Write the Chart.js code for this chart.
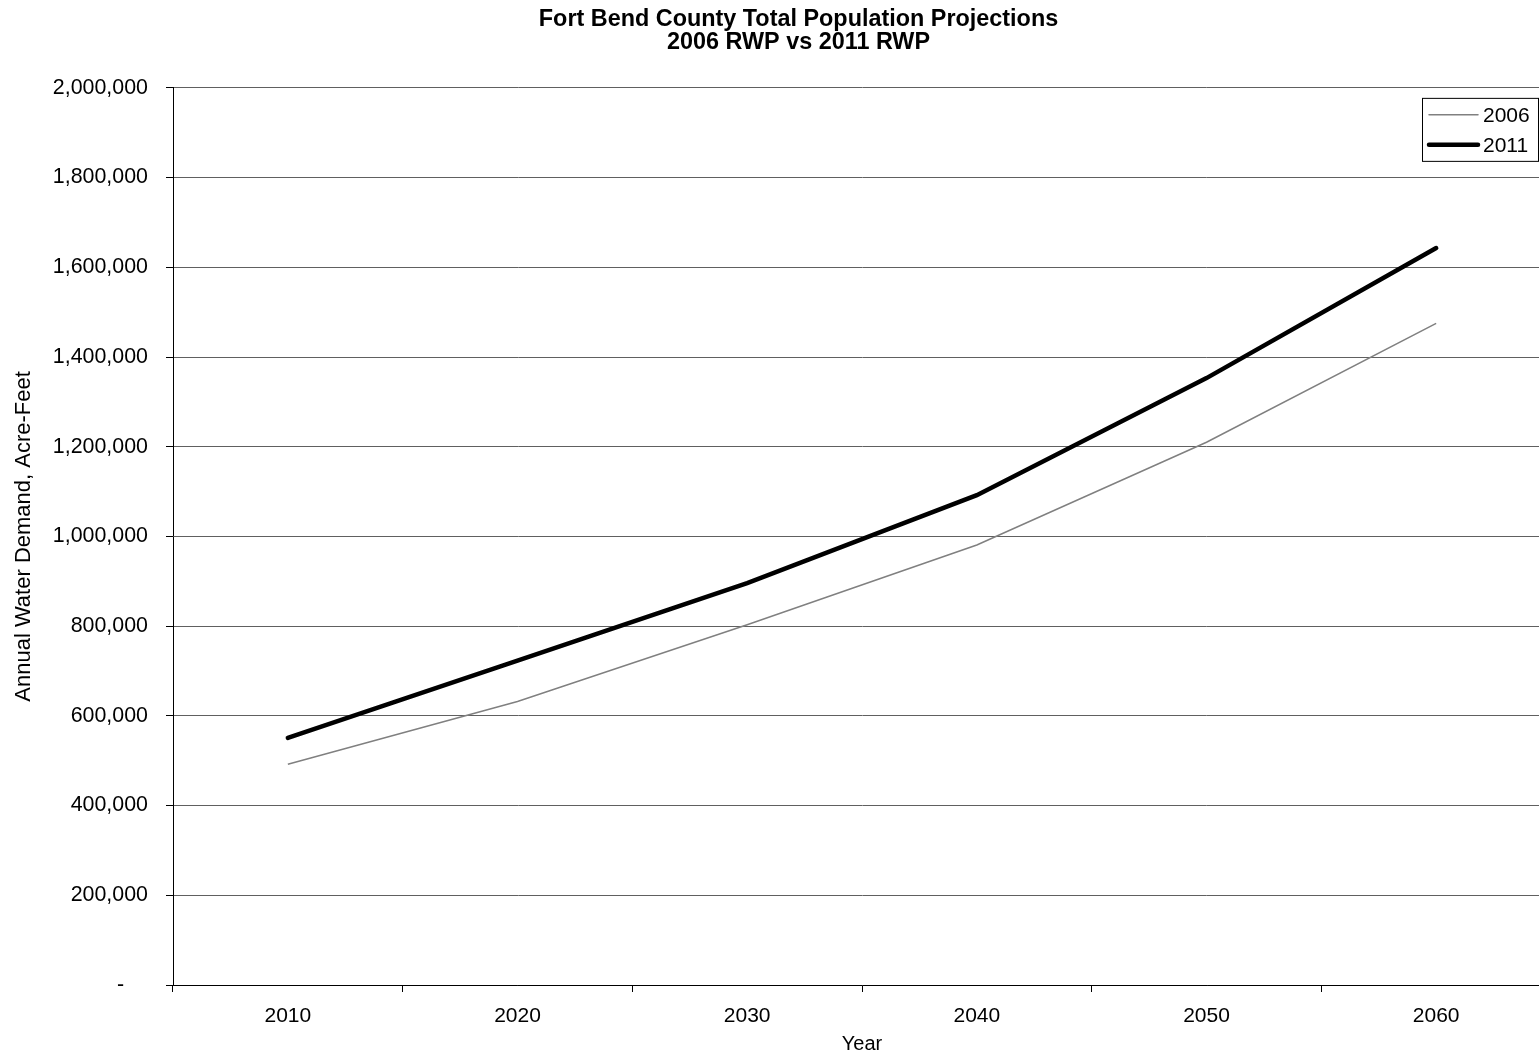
<!DOCTYPE html>
<html>
<head>
<meta charset="utf-8">
<title>Fort Bend County Total Population Projections</title>
<script src="https://cdn.jsdelivr.net/npm/chart.js@4.4.1/dist/chart.umd.min.js"></script>
<style>
  html, body { margin: 0; padding: 0; background: #fff; overflow: hidden; }
  #wrap { width: 1597px; height: 1055px; }
</style>
</head>
<body>
<div id="wrap"><canvas id="grafico" width="1597" height="1055"></canvas></div>
<script>
// dados
const anos = ['2010', '2020', '2030', '2040', '2050', '2060'];
const rwp2006 = [492000, 632000, 803000, 981000, 1210000, 1475000];
const rwp2011 = [551000, 723000, 896000, 1092000, 1353000, 1643000];
const nomesSeries = ['2006', '2011'];
const yTicks = [0, 200000, 400000, 600000, 800000, 1000000, 1200000, 1400000, 1600000, 1800000, 2000000];

const fonte = "'Liberation Sans', Arial, sans-serif";

// legenda em caixa, no canto superior direito da area do grafico
const legendaCaixa = {
    id: 'legendaCaixa',
    afterDraw(chart) {
        const ctx = chart.ctx;
        const area = chart.chartArea;
        const w = 116, h = 63;
        const x = area.right - 13 - w;
        const y = area.top + 10;
        ctx.save();
        ctx.fillStyle = '#fff';
        ctx.fillRect(x, y, w, h);
        ctx.strokeStyle = '#000';
        ctx.lineWidth = 1;
        ctx.strokeRect(x + 0.5, y + 0.5, w, h);
        ctx.font = '21px ' + fonte;
        ctx.textBaseline = 'middle';
        ctx.fillStyle = '#000';
        chart.data.datasets.forEach(function(ds, i) {
            const cy = y + 17 + i * 30;
            ctx.beginPath();
            ctx.strokeStyle = ds.borderColor;
            ctx.lineWidth = ds.borderWidth;
            ctx.lineCap = 'round';
            ctx.moveTo(x + 7, cy);
            ctx.lineTo(x + 56, cy);
            ctx.stroke();
            ctx.fillText(ds.label, x + 61, cy + 1);
        });
        ctx.restore();
    }
};

const ctx = document.getElementById('grafico').getContext('2d');
const myChart = new Chart(ctx, {
    type: 'line',
    data: {
        labels: anos,
        datasets: [{
            label: nomesSeries[0],
            data: rwp2006,
            borderColor: '#808080',
            borderWidth: 1.5,
            pointRadius: 0,
            tension: 0,
            fill: false
        }, {
            label: nomesSeries[1],
            data: rwp2011,
            borderColor: '#000',
            borderWidth: 4.5,
            borderCapStyle: 'round',
            pointRadius: 0,
            tension: 0,
            fill: false
        }]
    },
    plugins: [legendaCaixa],
    options: {
        responsive: false,
        animation: false,
        layout: { padding: 0 },
        plugins: {
            legend: { display: false },
            tooltip: { enabled: false },
            title: {
                display: true,
                text: ['Fort Bend County Total Population Projections', '2006 RWP vs 2011 RWP'],
                color: '#000',
                font: { family: fonte, size: 23.4, weight: 'bold', lineHeight: 0.98 },
                padding: { top: 8, bottom: 34 }
            }
        },
        scales: {
            x: {
                type: 'category',
                offset: true,
                border: { display: true, color: '#000', width: 1 },
                grid: {
                    offset: true,
                    drawOnChartArea: false,
                    drawTicks: true,
                    tickLength: 7,
                    tickColor: '#000'
                },
                ticks: {
                    color: '#000',
                    padding: 12,
                    maxRotation: 0,
                    font: { family: fonte, size: 21 }
                },
                title: {
                    display: true,
                    text: 'Year',
                    color: '#000',
                    font: { family: fonte, size: 20, lineHeight: 1.2 },
                    padding: { top: 0, bottom: -1 }
                },
                afterFit(scale) { scale.height = 70; }
            },
            y: {
                min: 0,
                max: 2000000,
                border: { display: true, color: '#000', width: 1 },
                grid: {
                    color: '#606060',
                    lineWidth: 1,
                    drawTicks: true,
                    tickLength: 7,
                    tickColor: '#000'
                },
                afterBuildTicks(scale) {
                    scale.ticks = yTicks.map(v => ({ value: v }));
                },
                ticks: {
                    color: '#000',
                    padding: 18,
                    font: { family: fonte, size: 21.4 },
                    callback: function(v) {
                        return v === 0 ? '-    ' : v.toLocaleString('en-US');
                    }
                },
                title: {
                    display: true,
                    text: 'Annual Water Demand, Acre-Feet',
                    color: '#000',
                    font: { family: fonte, size: 22, lineHeight: 1.2 },
                    padding: { top: 11, bottom: 0 }
                },
                afterFit(scale) { scale.width = 173; }
            },
            yDireita: {
                position: 'right',
                display: true,
                border: { display: false },
                grid: { drawOnChartArea: false, drawTicks: false },
                ticks: { display: false },
                afterFit(scale) { scale.width = 46; }
            }
        }
    }
});
</script>
</body>
</html>
